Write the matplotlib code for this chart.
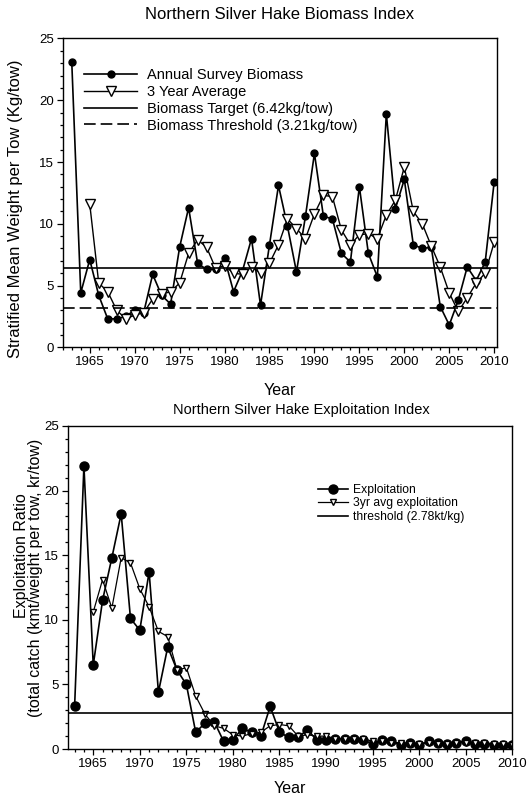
import numpy as np
import matplotlib
matplotlib.use('Agg')
import matplotlib.pyplot as plt
from matplotlib.ticker import MultipleLocator

plt.rcParams['font.family'] = ['Liberation Sans', 'DejaVu Sans']

# --- biomass index (top panel) ---
bio_years = list(range(1963, 2011))
bio_annual = [23.1, 4.4, 7.1, 4.2, 2.3, 2.3, 2.5, 3.0, 2.8, 5.9,
              4.2, 3.5, 8.1, 11.3, 6.8, 6.3, 6.3, 7.2, 4.5, 6.2,
              8.8, 3.4, 8.3, 13.1, 9.8, 6.1, 10.6, 15.7, 10.6, 10.4,
              7.6, 6.9, 13.0, 7.6, 5.7, 18.9, 11.2, 13.6, 8.3, 8.0,
              8.1, 3.3, 1.8, 3.8, 6.5, 5.4, 6.9, 13.4]
avg_years = list(range(1965, 2011))
bio_avg3 = [11.6, 5.2, 4.5, 3.0, 2.3, 2.6, 2.8, 3.9, 4.3, 4.5,
            5.2, 7.6, 8.7, 8.1, 6.4, 6.6, 6.0, 5.9, 6.5, 6.0,
            6.8, 8.3, 10.4, 9.6, 8.8, 10.8, 12.3, 12.2, 9.5, 8.3,
            9.1, 9.2, 8.8, 10.7, 11.9, 14.6, 11.0, 10.0, 8.2, 6.5,
            4.4, 2.9, 4.0, 5.2, 6.0, 8.5]
bio_target = 6.42
bio_threshold = 3.21

# --- exploitation index (bottom panel) ---
expl_years = list(range(1963, 2011))
expl = [3.3, 21.9, 6.5, 11.5, 14.8, 18.2, 10.1, 9.2, 13.7, 4.4,
        7.9, 6.1, 5.0, 1.3, 2.0, 2.1, 0.6, 0.7, 1.6, 1.3,
        1.0, 3.3, 1.3, 0.9, 0.9, 1.5, 0.7, 0.7, 0.8, 0.8,
        0.8, 0.7, 0.4, 0.7, 0.6, 0.3, 0.5, 0.3, 0.6, 0.5,
        0.4, 0.5, 0.6, 0.4, 0.4, 0.3, 0.3, 0.3]
expl_avg3 = [10.6, 13.1, 10.9, 14.8, 14.4, 12.4, 11.0, 9.1, 8.7, 6.1,
             6.3, 4.1, 2.7, 1.8, 1.6, 1.1, 1.0, 1.2, 1.3, 1.8,
             1.9, 1.8, 1.0, 1.1, 1.0, 1.0, 0.8, 0.8, 0.8, 0.8,
             0.6, 0.6, 0.5, 0.5, 0.4, 0.4, 0.5, 0.4, 0.4, 0.5,
             0.5, 0.5, 0.5, 0.4, 0.4, 0.3]
expl_threshold = 2.78

xticks = [1965, 1970, 1975, 1980, 1985, 1990, 1995, 2000, 2005, 2010]

fig = plt.figure(figsize=(5.32, 8.02), dpi=100)


def style_axes(ax):
	ax.set_ylim(0, 25)
	ax.set_xticks(xticks)
	ax.xaxis.set_minor_locator(MultipleLocator(1))
	ax.yaxis.set_major_locator(MultipleLocator(5))
	ax.yaxis.set_minor_locator(MultipleLocator(1))
	ax.tick_params(which='both', direction='out', labelsize=9.5, width=0.9)
	ax.tick_params(which='major', length=4, pad=2.5)
	ax.tick_params(which='minor', length=2)
	for s in ax.spines.values():
		s.set_linewidth(1.0)


# top panel
ax1 = fig.add_axes([0.118, 0.567, 0.816, 0.385])
ax1.plot(bio_years, bio_annual, color='black', lw=1.2, marker='o', ms=5,
	label='Annual Survey Biomass')
ax1.plot(avg_years, bio_avg3, color='black', lw=1.0, marker='v', ms=7.5,
	mfc='white', mec='black', label='3 Year Average')
ax1.axhline(bio_target, color='black', lw=1.2, label='Biomass Target (6.42kg/tow)')
ax1.axhline(bio_threshold, color='black', lw=1.2, ls=(0, (7, 3)),
	label='Biomass Threshold (3.21kg/tow)')
ax1.set_xlim(1962, 2010.3)
style_axes(ax1)
ax1.text(0.5, 1.078, 'Northern Silver Hake Biomass Index', transform=ax1.transAxes,
	ha='center', va='center', fontsize=12)
ax1.set_xlabel('Year', fontsize=11.5)
ax1.xaxis.set_label_coords(0.5, -0.115)
ax1.set_ylabel('Stratified Mean Weight per Tow (Kg/tow)', fontsize=12)
ax1.yaxis.set_label_coords(-0.092, 0.45)
ax1.legend(loc='upper left', bbox_to_anchor=(0.05, 0.905), frameon=False,
	fontsize=10.5, handlelength=3.6, handletextpad=0.7, labelspacing=0.2,
	borderpad=0, borderaxespad=0)

# bottom panel
ax2 = fig.add_axes([0.128, 0.066, 0.835, 0.403])
ax2.plot(expl_years, expl, color='black', lw=1.2, marker='o', ms=6.5,
	label='Exploitation')
ax2.plot(avg_years, expl_avg3, color='black', lw=0.9, marker='v', ms=5,
	mfc='white', mec='black', label='3yr avg exploitation')
ax2.axhline(expl_threshold, color='black', lw=1.2, label='threshold (2.78kt/kg)')
ax2.set_xlim(1962.3, 2010)
style_axes(ax2)
ax2.text(0.525, 1.05, 'Northern Silver Hake Exploitation Index', transform=ax2.transAxes,
	ha='center', va='center', fontsize=10.5)
ax2.set_xlabel('Year', fontsize=11.5)
ax2.xaxis.set_label_coords(0.5, -0.098)
ax2.text(-0.104, 0.60, 'Exploitation Ratio', transform=ax2.transAxes,
	rotation=90, ha='center', va='center', fontsize=11.5)
ax2.text(-0.073, 0.53, '(total catch (kmt/weight per tow, kr/tow)', transform=ax2.transAxes,
	rotation=90, ha='center', va='center', fontsize=11.5)
ax2.legend(loc='upper left', bbox_to_anchor=(0.563, 0.82), frameon=False,
	fontsize=8.7, handlelength=2.5, handletextpad=0.4, labelspacing=0.12,
	borderpad=0, borderaxespad=0)

fig.savefig('out.png', dpi=100)
